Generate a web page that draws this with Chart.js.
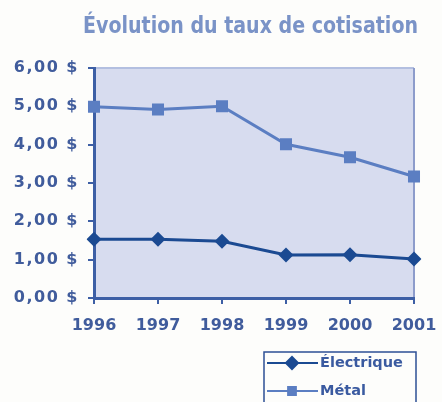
<!DOCTYPE html>
<html><head><meta charset="utf-8">
<script src="https://cdn.jsdelivr.net/npm/chart.js@4"></script>
<style>html,body{margin:0;padding:0;background:#fdfdfb}#wrap{width:442px;height:402px}</style>
</head><body><div id="wrap"><canvas id="c" width="442" height="402"></canvas></div>
<script>
const titleText = 'Évolution du taux de cotisation';
const years = ['1996','1997','1998','1999','2000','2001'];
const electrique = [1.53, 1.53, 1.48, 1.12, 1.13, 1.02];
const metal = [4.99, 4.92, 5.00, 4.01, 3.67, 3.17];
const yTicks = [0, 1, 2, 3, 4, 5, 6];
const seriesNames = ['Électrique', 'Métal'];

const axisColor = '#3d5fa5';
const labelColor = '#405c9c';
const tickFont = {family: "'DejaVu Sans'", weight: 'bold', size: 16};

const plotBg = {
  id: 'plotBg',
  afterLayout(chart) {
    const ys = chart.scales.y;
    if (!ys._spaced) {
      const orig = ys.drawLabels.bind(ys);
      ys.drawLabels = function(area) {
        const c = chart.ctx;
        c.save(); c.letterSpacing = '1.5px'; orig(area); c.restore();
      };
      ys._spaced = true;
    }
  },
  beforeDraw(chart) {
    const {ctx, chartArea: a} = chart;
    ctx.save();
    ctx.fillStyle = '#d7dcef';
    ctx.fillRect(a.left, a.top, a.right - a.left, a.bottom - a.top);
    ctx.strokeStyle = '#b3bfe0';
    ctx.lineWidth = 2;
    ctx.beginPath();
    ctx.moveTo(a.left, a.top); ctx.lineTo(a.right, a.top);
    ctx.stroke();
    ctx.strokeStyle = '#8d9ccb';
    ctx.beginPath();
    ctx.moveTo(a.right, a.top); ctx.lineTo(a.right, a.bottom);
    ctx.stroke();
    ctx.restore();
  }
};

const fitTitle = {
  id: 'fitTitle',
  afterDraw(chart) {
    const ctx = chart.ctx;
    ctx.save();
    ctx.font = "bold 23.5px 'DejaVu Sans Condensed', 'DejaVu Sans'";
    ctx.fillStyle = '#7a93c7';
    ctx.textBaseline = 'alphabetic';
    ctx.textAlign = 'left';
    const target = 335, right = 418;
    const w = ctx.measureText(titleText).width;
    const sx = target / w;
    ctx.translate(right - target, 33);
    ctx.scale(sx, 1);
    ctx.fillText(titleText, 0, 0);
    ctx.restore();
  }
};

const boxLegend = {
  id: 'boxLegend',
  afterDraw(chart) {
    const ctx = chart.ctx;
    ctx.save();
    const x0 = 264, y0 = 352, w = 152, h = 60;
    ctx.strokeStyle = '#2d4f95';
    ctx.lineWidth = 1.5;
    ctx.strokeRect(x0, y0, w, h);
    const rows = [363, 391];
    chart.data.datasets.forEach((ds, i) => {
      const y = rows[i];
      ctx.strokeStyle = ds.borderColor;
      ctx.lineWidth = 2;
      ctx.beginPath(); ctx.moveTo(267, y); ctx.lineTo(318, y); ctx.stroke();
      ctx.fillStyle = ds.borderColor;
      ctx.beginPath();
      Chart.helpers.drawPoint(ctx, {pointStyle: ds.pointStyle, radius: i === 0 ? 6 : 5.5, borderWidth: 1}, 292, y);
      ctx.fill();
      ctx.fillStyle = '#3a5aa0';
      ctx.font = "bold 14.5px 'DejaVu Sans'";
      ctx.textBaseline = 'middle';
      ctx.textAlign = 'left';
      ctx.fillText(ds.label, 320, y);
    });
    ctx.restore();
  }
};

new Chart(document.getElementById('c'), {
  type: 'line',
  data: {
    labels: years,
    datasets: [
      {label: seriesNames[0], data: electrique, borderColor: '#1b4a92', backgroundColor: '#1b4a92',
       borderWidth: 3, pointStyle: 'rectRot', pointRadius: 7.5, pointBorderWidth: 0, tension: 0},
      {label: seriesNames[1], data: metal, borderColor: '#5b7ec2', backgroundColor: '#5b7ec2',
       borderWidth: 3, pointStyle: 'rect', pointRadius: 8.5, pointBorderWidth: 0, tension: 0}
    ]
  },
  options: {
    responsive: false,
    animation: false,
    devicePixelRatio: 1,
    layout: {padding: {left: 0, right: 28, top: 68, bottom: 0}},
    plugins: {
      legend: {display: false},
      tooltip: {enabled: false},
      title: {display: false}
    },
    scales: {
      x: {
        offset: false,
        grid: {display: true, drawOnChartArea: false, drawTicks: true, tickLength: 6, color: axisColor, lineWidth: 2},
        border: {display: true, color: axisColor, width: 3},
        ticks: {color: labelColor, font: tickFont, padding: 12, maxRotation: 0, autoSkip: false},
        afterFit(s) { s.height = 104; s.paddingRight = 0; s.paddingLeft = 0; }
      },
      y: {
        min: 0, max: 6,
        afterBuildTicks(s) { s.ticks = yTicks.map(v => ({value: v})); },
        grid: {display: true, drawOnChartArea: false, drawTicks: true, tickLength: 6, color: axisColor, lineWidth: 2},
        border: {display: true, color: axisColor, width: 3},
        ticks: {color: labelColor, font: tickFont, padding: 9,
          callback: v => v.toFixed(2).replace('.', ',') + ' $'},
        afterFit(s) { s.width = 94; s.paddingTop = 0; s.paddingBottom = 0; }
      }
    }
  },
  plugins: [plotBg, fitTitle, boxLegend]
});
</script></body></html>
